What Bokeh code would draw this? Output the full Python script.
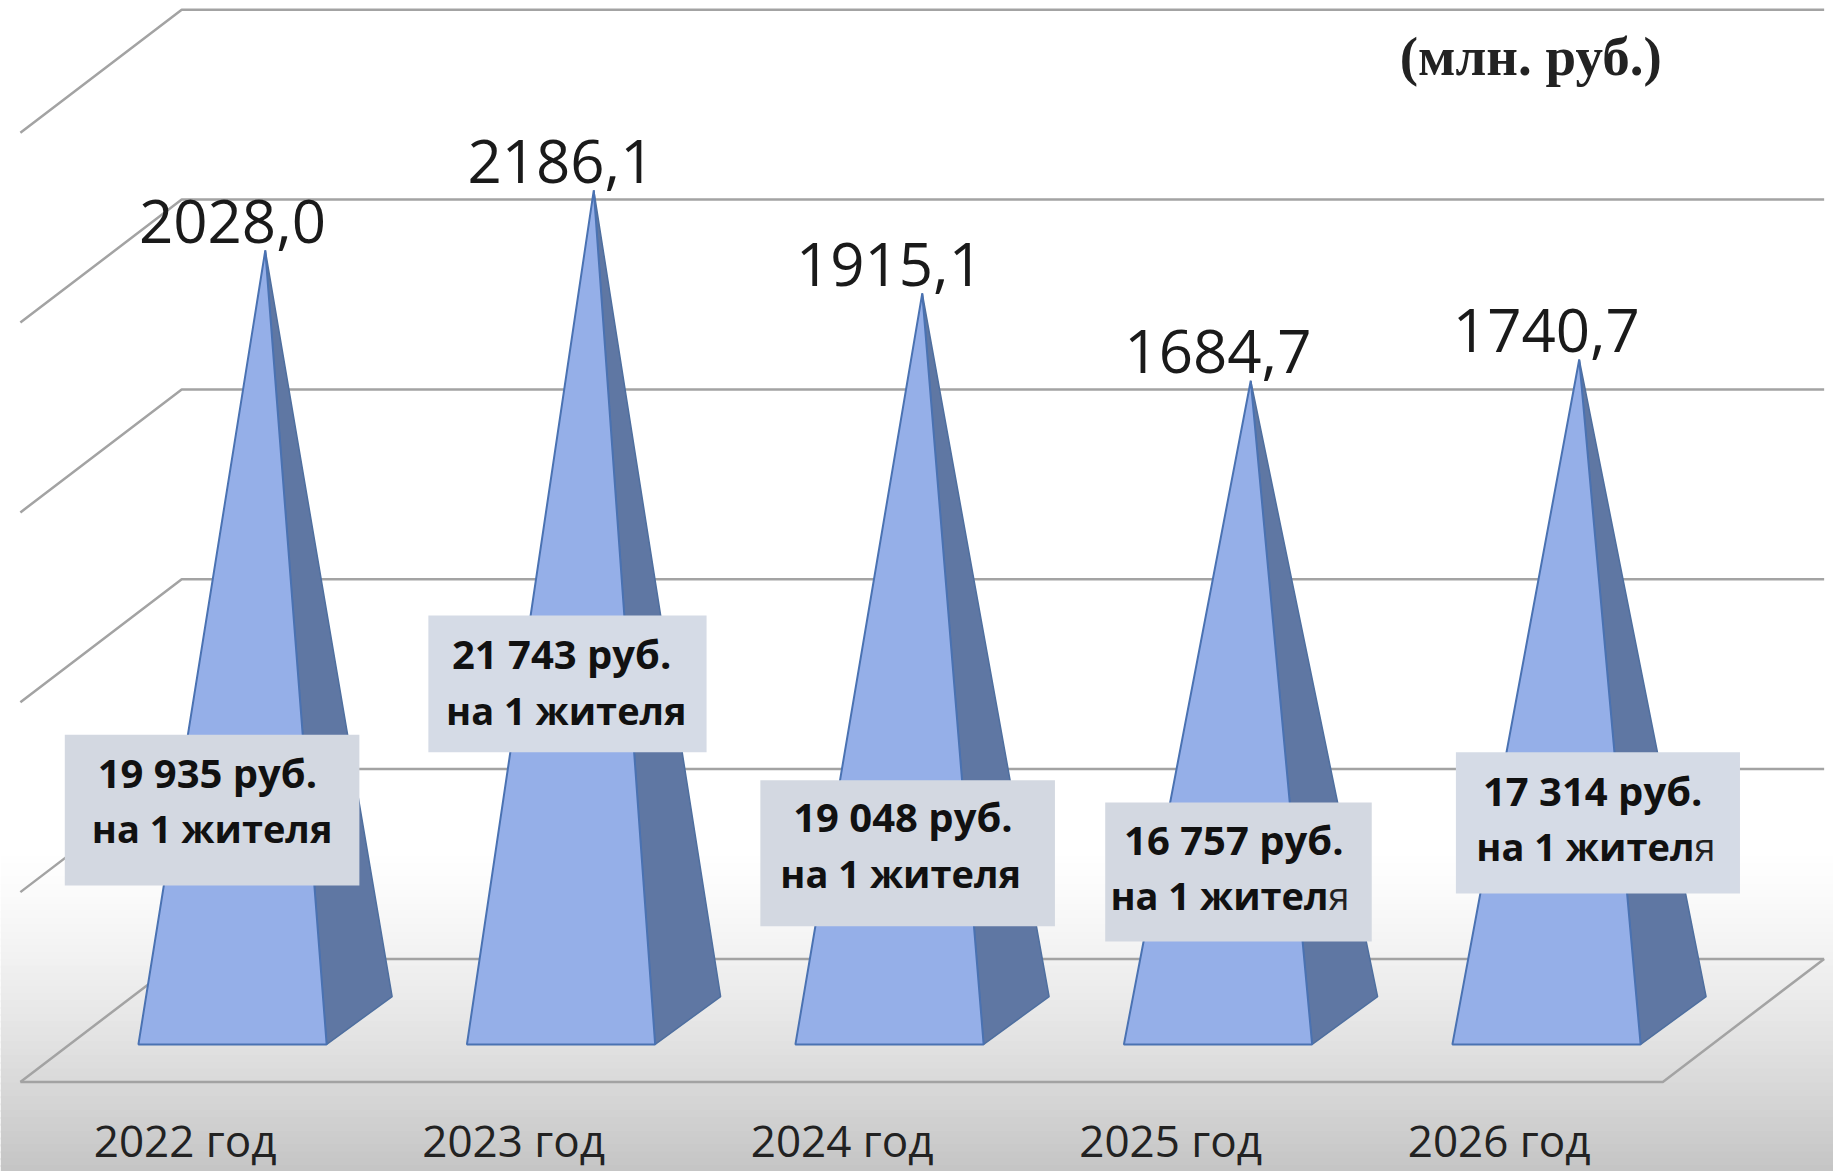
from bokeh.plotting import figure
from bokeh.embed import file_html
from bokeh.resources import INLINE
from bokeh.core.properties import value as fv

years = ["2022 год", "2023 год", "2024 год", "2025 год", "2026 год"]
values = [2028.0, 2186.1, 1915.1, 1684.7, 1740.7]
value_labels = ["2028,0", "2186,1", "1915,1", "1684,7", "1740,7"]
per_capita = ["19 935 руб.", "21 743 руб.", "19 048 руб.", "16 757 руб.", "17 314 руб."]
grid_levels = [0, 500, 1000, 1500, 2000, 2500]
unit_label = "(млн. руб.)"
resident = "на 1 жителя"

S = 1833 / 1568
W, H = 1833, 1171
CAT = 281 * S           # px per category
VAL = 0.3248 * S        # px per value unit
X0, Y0 = 226.5 * S, 872.5 * S


def X(sx):
    return (sx * S - X0) / CAT


def Y(sy):
    return (Y0 - sy * S) / VAL


p = figure(width=W, height=H, output_backend="svg", toolbar_location=None,
           x_range=(-X0 / CAT, (W - X0) / CAT),
           y_range=((Y0 - H) / VAL, Y0 / VAL),
           min_border=0, outline_line_color=None, background_fill_color="white",
           border_fill_color="white")
p.axis.visible = False
p.grid.visible = False

# background fade towards the bottom
n = 48
top, bot = 720.0, 1002.0
for k in range(n):
    t = (k + 0.5) / n
    g = int(round(255 - (255 - 196) * t ** 1.4))
    y1 = top + (bot - top) * k / n
    y2 = top + (bot - top) * (k + 1.3) / n
    p.quad(left=X(0), right=X(1568), top=Y(y1), bottom=Y(min(y2, bot)),
           fill_color=f"#{g:02x}{g:02x}{g:02x}", line_color=None)

# walls and floor
GRID = "#a3a3a3"
DEPTH = 162.0  # value units from mid depth to wall
xl = X(155)
for v in grid_levels:
    p.line([X(17), xl, X(1560)], [v - DEPTH, v + DEPTH, v + DEPTH], line_color=GRID, line_width=2.5)
p.line([X(17), X(1422), X(1560)], [-DEPTH, -DEPTH, DEPTH], line_color=GRID, line_width=2.5)

# pyramids
HALF, DX, DY = 80.5 / 281, 28 / 281, 63.0
centres = list(range(len(values)))
side_x = [[i - DX + HALF, i + DX + HALF, i] for i in centres]
side_y = [[-DY, DY, v] for v in values]
front_x = [[i - DX - HALF, i - DX + HALF, i] for i in centres]
front_y = [[-DY, -DY, v] for v in values]
p.patches(side_x, side_y, fill_color="#5f77a3", line_color="#4f6f9f", line_width=1.5)
p.patches(front_x, front_y, fill_color="#95afe8", line_color="#4a72b2", line_width=2)

# value labels
p.text([i - 0.1 for i in centres], [v + 77 for v in values], text=value_labels,
       text_font=fv("Open Sans"), text_font_size="60px", text_color="#1a1a1a",
       text_align="center", text_baseline="middle")

# year labels
p.text([i - 0.2438 for i in centres], [Y(975)] * 5, text=years,
       text_font=fv("Open Sans"), text_font_size="44px", text_color="#222222",
       text_align="center", text_baseline="middle")

# per-resident boxes
boxes = [(55, 307, 628, 757), (366, 604, 526, 643), (650, 902, 667, 792),
         (945, 1173, 686, 805), (1245, 1488, 643, 764)]
line1_c = [(177, 660), (480, 559), (772, 698), (1055, 718), (1362, 676)]
line2_c = [(181, 708), (484, 607), (770, 746), (1052, 765), (1365, 723)]
BOX = ["#d3d8e1", "#d5dbe6", "#d3d8e1", "#d3d8e1", "#d5dbe6"]
for (a, b, c, d), col in zip(boxes, BOX):
    p.quad(left=X(a), right=X(b), top=Y(c), bottom=Y(d), fill_color=col, line_color=None)

kw = dict(text_font=fv("Open Sans"), text_font_style="bold",
          text_color="#111111", text_baseline="middle")
for txt, (cx, cy) in zip(per_capita, line1_c):
    p.text([X(cx)], [Y(cy)], text=[txt], text_align="center", text_font_size="40px", **kw)
for i, (cx, cy) in enumerate(line2_c):
    if i < 3:
        p.text([X(cx)], [Y(cy)], text=[resident], text_align="center", text_font_size="38px", **kw)
    else:
        split = cx + 84
        p.text([X(split)], [Y(cy)], text=[resident[:-1]], text_align="right", text_font_size="38px", **kw)
        p.text([X(split)], [Y(cy)], text=[resident[-1]], text_align="left",
               text_font=fv("Open Sans"), text_font_size="38px", text_color="#222222",
               text_baseline="middle")

# unit
p.text([X(1309)], [Y(48)], text=[unit_label], text_font=fv("Liberation Serif"),
       text_font_size="55px", text_font_style="bold", text_color="#222222",
       text_align="center", text_baseline="middle")

open("out.html", "w").write(file_html(p, INLINE))
